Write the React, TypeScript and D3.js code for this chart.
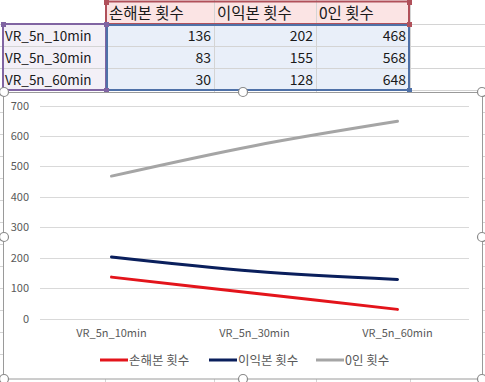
import React from "react";
import * as d3 from "d3";

const categories = ["VR_5n_10min", "VR_5n_30min", "VR_5n_60min"];
const seriesNames = ["손해본 횟수", "이익본 횟수", "0인 횟수"];
const loss = [136, 83, 30];
const profit = [202, 155, 128];
const zero = [468, 568, 648];
const yTicks = [0, 100, 200, 300, 400, 500, 600, 700];
const seriesColors = ["#E3141B", "#0A1F5C", "#A5A5A5"];

const W = 485;
const H = 382;
const FONT = "'Noto Sans CJK KR', 'Noto Sans', sans-serif";

export default function App() {
  const series = [loss, profit, zero];
  const colX = [2, 106, 214, 316, 409];
  const rowY = [1, 24, 46, 68, 90];
  const x = d3.scaleBand().domain(categories).range([40, 469]);
  const y = d3.scaleLinear().domain([0, 700]).range([318.5, 105.5]);
  const line = d3
    .line<number>()
    .x((_, i) => (x(categories[i]) as number) + x.bandwidth() / 2)
    .y((d) => y(d))
    .curve(d3.curveCatmullRom.alpha(0.5));

  const gridRows: number[] = [];
  for (let v = 24; v < H; v += 22) gridRows.push(v);

  const legendItems = [
    { lx: 100, tx: 129 },
    { lx: 209, tx: 238 },
    { lx: 316, tx: 345 },
  ];

  const handles = [
    [4, 92], [243, 92], [482, 92],
    [4, 237], [482, 237],
    [4, 379], [243, 379], [482, 379],
  ];

  return (
    <svg
      width={W}
      height={H}
      style={{ position: "absolute", left: 0, top: 0, background: "#fff" }}
      fontFamily={FONT}
    >
      {gridRows.map((gy) => (
        <line key={"gr" + gy} x1={0} x2={W} y1={gy + 0.5} y2={gy + 0.5} stroke="#d4d4d4" />
      ))}
      {[105, 214, 316, 410].map((gx) => (
        <line key={"gc" + gx} x1={gx + 0.5} x2={gx + 0.5} y1={0} y2={H} stroke="#d4d4d4" />
      ))}

      <rect x={107} y={2} width={302} height={22} fill="#FBE4E4" />
      <rect x={3} y={25} width={103} height={65} fill="#F3F0F7" />
      <rect x={107} y={25} width={302} height={65} fill="#E9EFF9" />
      {[214, 316].map((gx) => (
        <line key={"ic" + gx} x1={gx + 0.5} x2={gx + 0.5} y1={2} y2={90} stroke="#d4d4d4" />
      ))}
      {[46, 68].map((gy) => (
        <line key={"ir" + gy} x1={3} x2={409} y1={gy + 0.5} y2={gy + 0.5} stroke="#d4d4d4" />
      ))}

      {seriesNames.map((s, i) => (
        <text key={"h" + i} x={colX[i + 1] + 3} y={18.5} fontSize={15.5} fill="#1a1a1a">
          {s}
        </text>
      ))}
      {categories.map((c, r) => (
        <g key={"row" + r}>
          <text x={5} y={rowY[r + 1] + 16.5} fontSize={13.5} fill="#1a1a1a">
            {c}
          </text>
          {series.map((s, i) => (
            <text
              key={"v" + i}
              x={colX[i + 2] - 3}
              y={rowY[r + 1] + 16.5}
              fontSize={14}
              textAnchor="end"
              fill="#1a1a1a"
            >
              {s[r]}
            </text>
          ))}
        </g>
      ))}

      <rect x={106} y={1.5} width={303} height={22.5} fill="none" stroke="#B0505A" strokeWidth={2} />
      <rect x={3} y={24} width={103} height={66} fill="none" stroke="#8064A2" strokeWidth={2} />
      <rect x={107} y={25} width={302} height={65} fill="none" stroke="#4F71A8" strokeWidth={2} />
      <rect x={104} y={0} width={5} height={5} fill="#B0505A" />
      <rect x={407} y={0} width={5} height={5} fill="#B0505A" />
      <rect x={407} y={22} width={5} height={5} fill="#B0505A" />
      <rect x={1} y={22} width={5} height={5} fill="#8064A2" />
      <rect x={104} y={22} width={5} height={5} fill="#8064A2" />
      <rect x={104} y={88} width={5} height={5} fill="#8064A2" />
      <rect x={407} y={88} width={5} height={5} fill="#4F71A8" />

      <rect x={3.5} y={92.5} width={479} height={286.5} fill="#fff" stroke="#9a9a9a" strokeWidth={1} />

      {yTicks.map((t) => (
        <g key={"t" + t}>
          <line x1={40} x2={469} y1={Math.round(y(t)) + 0.5} y2={Math.round(y(t)) + 0.5} stroke="#d9d9d9" />
          <text x={29} y={y(t) + 4} fontSize={11} textAnchor="end" fill="#595959">
            {t}
          </text>
        </g>
      ))}

      {categories.map((c) => (
        <text
          key={"x" + c}
          x={(x(c) as number) + x.bandwidth() / 2}
          y={337}
          fontSize={11}
          textAnchor="middle"
          fill="#595959"
        >
          {c}
        </text>
      ))}

      {series.map((s, i) => (
        <path
          key={"l" + i}
          d={line(s) as string}
          fill="none"
          stroke={seriesColors[i]}
          strokeWidth={3}
          strokeLinecap="round"
        />
      ))}

      {seriesNames.map((s, i) => (
        <g key={"lg" + i}>
          <line
            x1={legendItems[i].lx}
            x2={legendItems[i].lx + 28}
            y1={360}
            y2={360}
            stroke={seriesColors[i]}
            strokeWidth={3}
          />
          <text x={legendItems[i].tx} y={364.5} fontSize={12.5} fill="#595959">
            {s}
          </text>
        </g>
      ))}

      {handles.map(([hx, hy], i) => (
        <circle key={"hd" + i} cx={hx} cy={hy} r={4.5} fill="#fff" stroke="#8a8a8a" strokeWidth={1.2} />
      ))}
    </svg>
  );
}
